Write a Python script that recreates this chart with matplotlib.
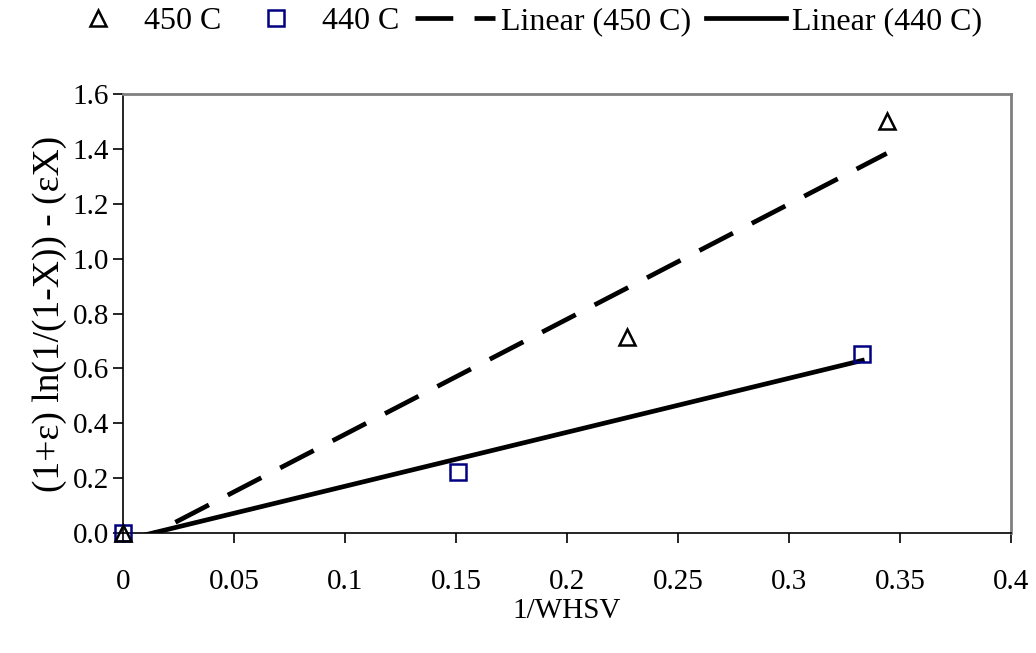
import numpy as np
import matplotlib
matplotlib.use("Agg")
import matplotlib.pyplot as plt

# Data
x_450 = [0.0, 0.227, 0.344]
y_450 = [0.0, 0.716, 1.50]
x_440 = [0.0, 0.151, 0.333]
y_440 = [0.0, 0.222, 0.651]

x_ticks = [0, 0.05, 0.1, 0.15, 0.2, 0.25, 0.3, 0.35, 0.4]
x_ticklabels = ["0", "0.05", "0.1", "0.15", "0.2", "0.25", "0.3", "0.35", "0.4"]
y_ticks = [0.0, 0.2, 0.4, 0.6, 0.8, 1.0, 1.2, 1.4, 1.6]

plt.rcParams['font.family'] = ['Liberation Serif', 'DejaVu Serif']

fig = plt.figure(figsize=(10.36, 6.53), dpi=100)
ax = fig.add_axes([0.1187, 0.1838, 0.9759 - 0.1187, 0.856 - 0.1838])

# trendlines (linear regression, as Excel)
def trend(xs, ys):
    m, b = np.polyfit(xs, ys, 1)
    xx = np.linspace(min(xs), max(xs), 200)
    return xx, m * xx + b

tx, ty = trend(x_450, y_450)
l1, = ax.plot(tx, ty, color='black', lw=3.4, dashes=(8, 4.5), dash_capstyle='butt',
              label='Linear (450 C)', zorder=2)
tx2, ty2 = trend(x_440, y_440)
l2, = ax.plot(tx2, ty2, color='black', lw=3.4, label='Linear (440 C)', zorder=2)

p1, = ax.plot(x_450, y_450, linestyle='none', marker='^', markersize=11,
              markerfacecolor='none', markeredgecolor='black', markeredgewidth=1.8,
              label='450 C', zorder=4, clip_on=False)
p2, = ax.plot(x_440, y_440, linestyle='none', marker='s', markersize=12,
              markerfacecolor='none', markeredgecolor='#000080', markeredgewidth=1.8,
              label='440 C', zorder=3, clip_on=False)

ax.set_xlim(0, 0.4)
ax.set_ylim(0, 1.6)
ax.set_xticks(x_ticks)
ax.set_xticklabels(x_ticklabels)
ax.set_yticks(y_ticks)
ax.set_yticklabels([f"{v:.1f}" for v in y_ticks])
ax.tick_params(axis='both', labelsize=21, direction='out', length=7, width=1.2, color='black')
ax.tick_params(axis='x', pad=19)
ax.tick_params(axis='y', pad=3)

for s in ['top', 'right']:
    ax.spines[s].set_color('#808080')
    ax.spines[s].set_linewidth(2)
for s in ['left', 'bottom']:
    ax.spines[s].set_color('black')
    ax.spines[s].set_linewidth(1.2)

ax.set_xlabel('1/WHSV', fontsize=21, labelpad=2)
ax.set_ylabel('(1+ε) ln(1/(1-X)) - (εX)', fontsize=27, labelpad=4)

fig.legend(handles=[p1, p2, l1, l2], loc='center', bbox_to_anchor=(0.502, 0.967),
           ncol=4, frameon=False, fontsize=23, handlelength=2.5, handletextpad=0.19,
           columnspacing=0.47, borderpad=0.2)

fig.savefig('out.png', dpi=100)
